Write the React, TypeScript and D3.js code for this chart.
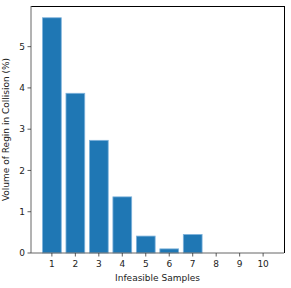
import React from "react";
import * as d3 from "d3";

const samples = [1, 2, 3, 4, 5, 6, 7, 8, 9, 10];
const volumes = [5.7, 3.87, 2.73, 1.36, 0.41, 0.1, 0.45, 0, 0, 0];
const yTicks = [0, 1, 2, 3, 4, 5];

const W = 291;
const H = 288;
const margin = {top: 6, right: 7, bottom: 35, left: 31};

const App: React.FC = () => {
	const innerW = W - margin.left - margin.right;
	const innerH = H - margin.top - margin.bottom;

	const x = d3.scaleLinear().domain([0.11, 10.89]).range([0, innerW]);
	const y = d3
		.scaleLinear()
		.domain([0, (d3.max(volumes) || 0) * 1.05])
		.range([innerH, 0]);
	const barW = x(0.8) - x(0);

	return (
		<svg
			width={W}
			height={H}
			style={{position: "absolute", left: 0, top: 0, background: "#fff"}}
			fontFamily="DejaVu Sans, sans-serif"
		>
			<g transform={`translate(${margin.left},${margin.top})`}>
				{samples.map((s, i) => {
					const v = volumes[i];
					if (v <= 0) return null;
					return (
						<rect
							key={s}
							x={x(s) - barW / 2}
							y={y(v)}
							width={barW}
							height={innerH - y(v)}
							fill="#1f77b4"
							stroke="#7fb3dc"
							strokeWidth={0.8}
						/>
					);
				})}

				{/* spines */}
				<line x1={0} x2={innerW} y1={0.5} y2={0.5} stroke="#000" strokeWidth={1} />
				<line x1={innerW + 0.5} x2={innerW + 0.5} y1={0} y2={innerH} stroke="#000" strokeWidth={1} />
				<line x1={0} x2={0} y1={0} y2={innerH} stroke="#666" strokeWidth={1} />
				<line x1={0} x2={innerW} y1={innerH} y2={innerH} stroke="#666" strokeWidth={1} />

				{/* y ticks */}
				{yTicks.map((t) => (
					<g key={t} transform={`translate(0,${y(t)})`}>
						<line x1={-3.5} x2={0} stroke="#333" strokeWidth={0.8} />
						<text x={-6} dy="0.34em" textAnchor="end" fontSize={9} fill="#222">
							{t}
						</text>
					</g>
				))}

				{/* x ticks */}
				{samples.map((s) => (
					<g key={s} transform={`translate(${x(s)},${innerH})`}>
						<line y1={0} y2={3.5} stroke="#333" strokeWidth={0.8} />
						<text y={14} textAnchor="middle" fontSize={9} fill="#222">
							{s}
						</text>
					</g>
				))}

				<text
					x={innerW / 2}
					y={innerH + 28}
					textAnchor="middle"
					fontSize={9}
					fill="#222"
				>
					Infeasible Samples
				</text>
				<text
					transform={`translate(${-22.5},${innerH / 2}) rotate(-90)`}
					textAnchor="middle"
					fontSize={9}
					fill="#222"
				>
					Volume of Regin in Collision (%)
				</text>
			</g>
		</svg>
	);
};

export default App;
